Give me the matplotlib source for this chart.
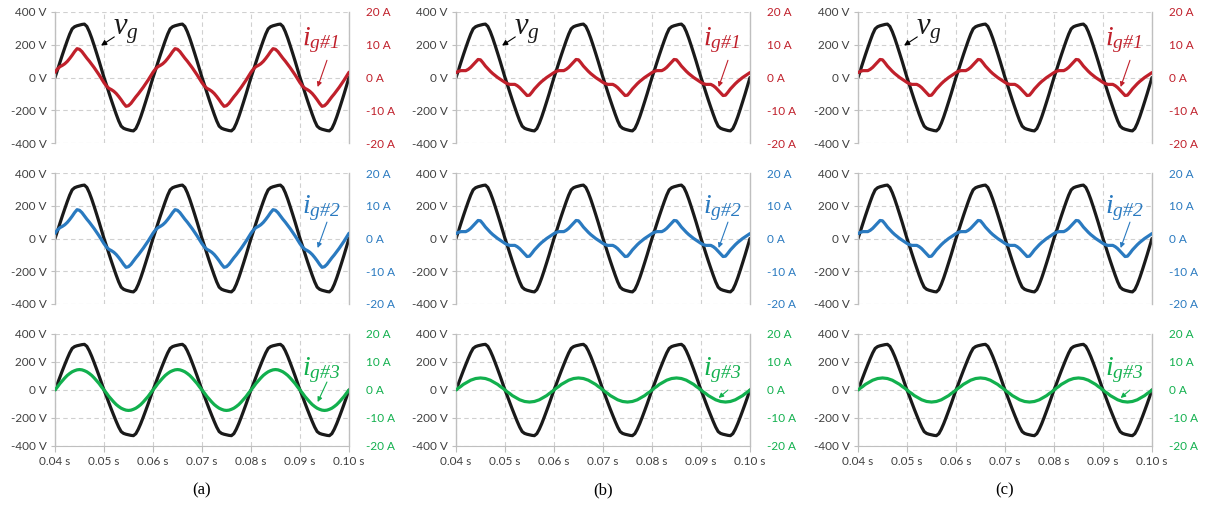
import numpy as np
import matplotlib
matplotlib.use('Agg')
import matplotlib.pyplot as plt

dt = 0.0005
t_start = 0.04
n_periods = 3

vg_period = [0, 45, 92, 138, 182, 225, 265, 297, 310, 316, 320, 324, 326, 312, 280, 240, 195, 148, 100, 50,
             0, -45, -92, -138, -182, -225, -265, -297, -310, -316, -320, -324, -326, -312, -280, -240, -195, -148, -100, -50]

# distorted grid current, case (a) (rows 1 and 2 look the same)
ig_dist_a = [1.6, 2.6, 3.3, 3.7, 4.2, 4.9, 5.8, 6.8, 7.9, 8.8, 8.6, 7.9, 6.9, 5.9, 5.0, 4.0, 3.0, 1.9, 0.8, -0.4,
             -1.6, -2.6, -3.3, -3.7, -4.2, -4.9, -5.8, -6.8, -7.9, -8.8, -8.6, -7.9, -6.9, -5.9, -5.0, -4.0, -3.0, -1.9, -0.8, 0.4]
# cases (b) and (c)
ig_dist_b = [1.5, 1.9, 2.1, 2.1, 2.1, 2.5, 3.1, 3.9, 4.7, 5.5, 5.4, 4.5, 3.5, 2.7, 1.9, 1.2, 0.6, 0.0, -0.5, -1.0,
             -1.5, -1.9, -2.1, -2.1, -2.1, -2.5, -3.1, -3.9, -4.7, -5.5, -5.4, -4.5, -3.5, -2.7, -1.9, -1.2, -0.6, 0.0, 0.5, 1.0]
ig_dist_c = [1.5, 1.9, 2.1, 2.1, 2.1, 2.5, 3.1, 3.9, 4.7, 5.5, 5.4, 4.5, 3.5, 2.7, 1.9, 1.2, 0.6, 0.0, -0.5, -1.0,
             -1.5, -1.9, -2.1, -2.1, -2.1, -2.5, -3.1, -3.9, -4.7, -5.5, -5.4, -4.5, -3.5, -2.7, -1.9, -1.2, -0.6, 0.0, 0.5, 1.0]
# sinusoidal current of inverter #3
ig3_a = [0, 1.1, 2.3, 3.3, 4.3, 5.2, 5.9, 6.5, 6.9, 7.2, 7.3, 7.2, 6.9, 6.5, 5.9, 5.2, 4.3, 3.3, 2.3, 1.1,
         0, -1.1, -2.3, -3.3, -4.3, -5.2, -5.9, -6.5, -6.9, -7.2, -7.3, -7.2, -6.9, -6.5, -5.9, -5.2, -4.3, -3.3, -2.3, -1.1]
ig3_b = [0, 0.7, 1.3, 2.0, 2.5, 3.0, 3.5, 3.8, 4.1, 4.2, 4.3, 4.2, 4.1, 3.8, 3.5, 3.0, 2.5, 2.0, 1.3, 0.7,
         0, -0.7, -1.3, -2.0, -2.5, -3.0, -3.5, -3.8, -4.1, -4.2, -4.3, -4.2, -4.1, -3.8, -3.5, -3.0, -2.5, -2.0, -1.3, -0.7]
ig3_c = ig3_b

v_ticks = [-400, -200, 0, 200, 400]
v_labels = ['-400 V', '-200 V', '0 V', '200 V', '400 V']
i_ticks = [-20, -10, 0, 10, 20]
i_labels = ['-20 A', '-10 A', '0 A', '10 A', '20 A']
t_ticks = [0.04, 0.05, 0.06, 0.07, 0.08, 0.09, 0.10]
t_labels = ['0.04 s', '0.05 s', '0.06 s', '0.07 s', '0.08 s', '0.09 s', '0.10 s']
case_labels = ['(a)', '(b)', '(c)']
row_labels = [r'$i_{g\#1}$', r'$i_{g\#2}$', r'$i_{g\#3}$']

currents = [[ig_dist_a, ig_dist_b, ig_dist_c],
            [ig_dist_a, ig_dist_b, ig_dist_c],
            [ig3_a, ig3_b, ig3_c]]

RED = '#C0202B'
BLUE = '#2A7AC0'
GREEN = '#12B04E'
row_colors = [RED, BLUE, GREEN]
GRID = '#D0D0D0'
SPINE = '#BFBFBF'
TXT = '#404040'


def repeat_period(period):
    # the traces are periodic: repeat the read period and close the last sample
    p = np.asarray(period, dtype=float)
    return np.concatenate([np.tile(p, n_periods), p[:1]])


vg = repeat_period(vg_period)
t = t_start + dt * np.arange(len(vg))

plt.rcParams['font.family'] = ['Lato', 'DejaVu Sans']
plt.rcParams['mathtext.fontset'] = 'custom'
# every math label in the figure is italic Times-like, digits included
plt.rcParams['mathtext.it'] = 'Liberation Serif:italic'
plt.rcParams['mathtext.rm'] = 'Liberation Serif:italic'
plt.rcParams['mathtext.default'] = 'it'

W, H = 1207, 512
fig = plt.figure(figsize=(W / 100, H / 100), dpi=100)

col_left = [55, 456, 858]
col_w = 294
row_top = [12, 173, 334]
row_h = [131, 131, 112]

for r in range(3):
    for c in range(3):
        rect = [col_left[c] / W, 1 - (row_top[r] + row_h[r]) / H, col_w / W, row_h[r] / H]
        ax = fig.add_axes(rect)
        ax2 = ax.twinx()
        ax.plot(t, vg, color='#1A1A1A', lw=2.3, solid_capstyle='round')
        ax2.plot(t, repeat_period(currents[r][c]), color=row_colors[r], lw=2.3, solid_capstyle='round')

        ax.set_xlim(0.04, 0.10)
        ax.set_ylim(-400, 400)
        ax2.set_ylim(-20, 20)
        ax.set_xticks(t_ticks)
        ax.set_yticks(v_ticks)
        ax.set_yticklabels(v_labels)
        ax2.set_yticks(i_ticks)
        ax2.set_yticklabels(i_labels)
        ax.grid(True, color=GRID, linestyle=(0, (4, 3)), linewidth=0.8)
        ax.set_axisbelow(True)

        for s in ['top', 'bottom', 'left', 'right']:
            ax2.spines[s].set_visible(False)
        ax.spines['top'].set_visible(False)
        ax.spines['left'].set_color(SPINE)
        ax.spines['right'].set_color(SPINE)
        ax.spines['bottom'].set_color(SPINE)
        ax.spines['left'].set_linewidth(1.0)
        ax.spines['right'].set_linewidth(1.0)

        ax.tick_params(axis='y', length=3, color=SPINE, labelsize=8.5, labelcolor=TXT, pad=3)
        ax2.tick_params(axis='y', length=0, labelsize=8.5, labelcolor=row_colors[r], pad=12)
        if r == 2:
            ax.set_xticklabels(t_labels)
            ax.tick_params(axis='x', length=4, color=SPINE, labelsize=8.5, labelcolor=TXT, pad=3)
        else:
            ax.spines['bottom'].set_visible(False)
            ax.tick_params(axis='x', length=0, labelbottom=False)

        # voltage label on the first row
        if r == 0:
            ax.annotate('', xy=(0.0494, 195), xytext=(0.0521, 248),
                        arrowprops=dict(arrowstyle='-|>', color='black', lw=0.8,
                                        mutation_scale=8, shrinkA=0, shrinkB=0))
            ax.text(0.0518, 262, r'$v_{g}$', fontsize=22, color='#1A1A1A',
                    ha='left', va='baseline')

        # current labels, positions in volts of the left axis
        top_px = [33, 40, 41][r]
        base_v = 400 - top_px / row_h[r] * 800
        tail_v = [105, 100, 57][r]
        head_v = [-58, -58, -86][r]
        if r == 2 and c > 0:
            tail_v, head_v = 0, -57
        ax.text(0.0905, base_v, row_labels[r], fontsize=20, color=row_colors[r],
                ha='left', va='baseline')
        ax.annotate('', xy=(0.0936, head_v), xytext=(0.0955, tail_v),
                    arrowprops=dict(arrowstyle='-|>', color=row_colors[r], lw=0.8,
                                    mutation_scale=7, shrinkA=0, shrinkB=0))

        if r == 2:
            ax.text(0.5, -0.4, case_labels[c], transform=ax.transAxes, ha='center', va='center',
                    fontsize=12, family='Liberation Serif', color='black')

fig.savefig('out.png', dpi=100)
